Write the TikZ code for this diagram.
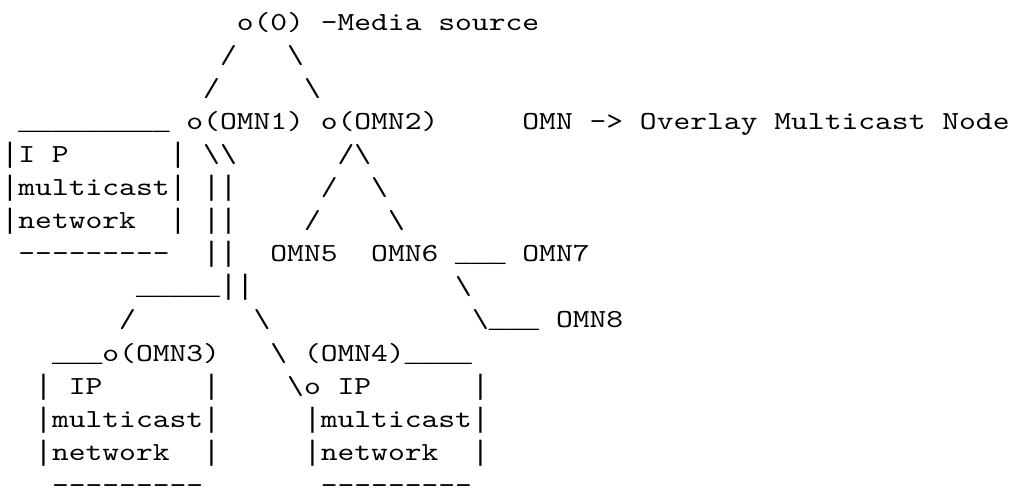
\documentclass[tikz,border=0pt]{standalone}
\usepackage{fontspec}
\newfontfamily\ascfont{lmmono10-regular}[Extension=.otf,FakeStretch=1.2308]
\newfontfamily\linefont{Liberation Mono}
\begin{document}
\begin{tikzpicture}[x=0.75pt,y=-0.75pt,
  asc/.style={anchor=base west,inner sep=0pt,outer sep=0pt,
    font=\ascfont\fontsize{19.5pt}{23pt}\selectfont,text=black}]
\useasboundingbox[fill=white] (0,0) rectangle (1015,494);
\newcommand\chunk[4]{\node[asc] (#1) at ({1.6+16.8*#2},{30+33.1*(#3-1)}) {#4};}
\newcommand\bs{\textbackslash}
\newcommand\us{{\linefont\fontsize{21pt}{23pt}\selectfont\_}}
\newcommand\vb{{\linefont\fontsize{21pt}{23pt}\selectfont|}}
% line 1
\chunk{src}{14}{1}{o(0) -Media source}
% line 2
\chunk{l2a}{13}{2}{/}
\chunk{l2b}{17}{2}{\bs}
% line 3
\chunk{l3a}{12}{3}{/}
\chunk{l3b}{18}{3}{\bs}
% line 4
\chunk{boxAtop}{1}{4}{\us\us\us\us\us\us\us\us\us}
\chunk{omn12}{11}{4}{o(OMN1) o(OMN2)}
\chunk{legend}{31}{4}{OMN -> Overlay Multicast Node}
% line 5
\chunk{boxAip}{0}{5}{\vb I P}
\chunk{l5b}{10}{5}{\vb{} \bs\bs}
\chunk{l5c}{20}{5}{/\bs}
% line 6
\chunk{boxAmc}{0}{6}{\vb multicast\vb{} \vb\vb}
\chunk{l6b}{19}{6}{/}
\chunk{l6c}{22}{6}{\bs}
% line 7
\chunk{boxAnw}{0}{7}{\vb network}
\chunk{l7b}{10}{7}{\vb{} \vb\vb}
\chunk{l7c}{18}{7}{/}
\chunk{l7d}{23}{7}{\bs}
% line 8
\chunk{boxAbot}{1}{8}{---------}
\chunk{l8b}{12}{8}{\vb\vb}
\chunk{omn5}{16}{8}{OMN5}
\chunk{omn67}{22}{8}{OMN6 \us\us\us{} OMN7}
% line 9
\chunk{l9a}{8}{9}{\us\us\us\us\us\vb\vb}
\chunk{l9b}{27}{9}{\bs}
% line 10
\chunk{l10a}{7}{10}{/}
\chunk{l10b}{15}{10}{\bs}
\chunk{omn8}{28}{10}{\bs\us\us\us{} OMN8}
% line 11
\chunk{omn3}{3}{11}{\us\us\us o(OMN3)}
\chunk{omn4}{16}{11}{\bs{} (OMN4)\us\us\us\us}
% line 12
\chunk{boxBip}{2}{12}{\vb{} IP}
\chunk{l12b}{12}{12}{\vb}
\chunk{boxCip}{17}{12}{\bs o IP}
\chunk{l12d}{28}{12}{\vb}
% line 13
\chunk{boxBmc}{2}{13}{\vb multicast\vb}
\chunk{boxCmc}{18}{13}{\vb multicast\vb}
% line 14
\chunk{boxBnw}{2}{14}{\vb network}
\chunk{l14b}{12}{14}{\vb}
\chunk{boxCnw}{18}{14}{\vb network}
\chunk{l14d}{28}{14}{\vb}
% line 15
\chunk{boxBbot}{3}{15}{---------}
\chunk{boxCbot}{19}{15}{---------}
\end{tikzpicture}
\end{document}
